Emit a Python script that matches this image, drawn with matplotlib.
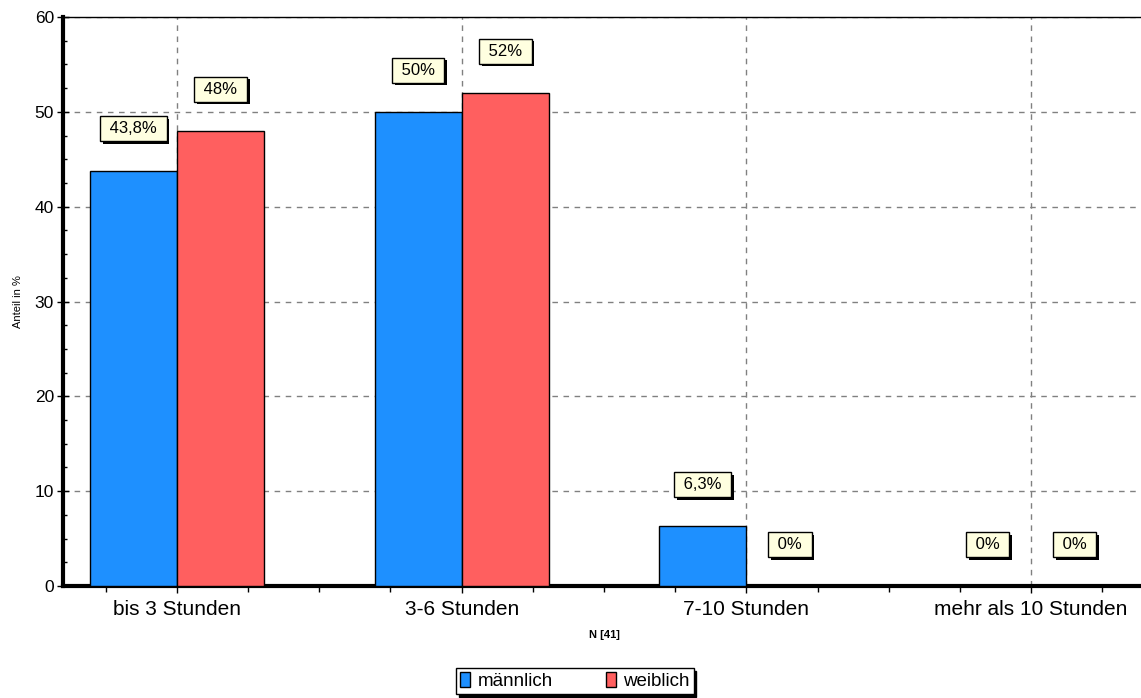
import matplotlib
matplotlib.use("Agg")
import matplotlib.pyplot as plt
import matplotlib.patheffects as pe
import numpy as np
from matplotlib.ticker import MultipleLocator

plt.rcParams["font.family"] = ["Liberation Sans", "DejaVu Sans"]

# data
categories = ["bis 3 Stunden", "3-6 Stunden", "7-10 Stunden", "mehr als 10 Stunden"]
maennlich = [43.8, 50, 6.3, 0]
weiblich = [48, 52, 0, 0]
series_names = ["männlich", "weiblich"]
colors = ["#1e90ff", "#ff5f5f"]


def fmt(v):
    if float(v).is_integer():
        return f"{int(v)}%"
    return f"{v:.1f}%".replace(".", ",")


fig = plt.figure(figsize=(11.41, 6.98), dpi=100)
ax = fig.add_axes([63 / 1141, 112 / 698, 1082 / 1141, 569 / 698])

x = np.arange(len(categories))
w = 0.306

box_shadow = [pe.SimplePatchShadow(offset=(2, -2), shadow_rgbFace="black", alpha=1),
              pe.Normal()]

for i, (vals, col) in enumerate(zip([maennlich, weiblich], colors)):
    offs = -w / 2 if i == 0 else w / 2
    ax.bar(x + offs, vals, w, color=col, edgecolor="black", linewidth=1,
           label=series_names[i], zorder=3)
    for xi, v in zip(x + offs, vals):
        t = ax.annotate(f" {fmt(v)} ", (xi, v), xytext=(0, 30), textcoords="offset points",
                        ha="center", va="center", fontsize=12, color="black",
                        bbox=dict(boxstyle="square,pad=0.3", fc="#ffffe0", ec="black", lw=1),
                        zorder=5)
        t.get_bbox_patch().set_path_effects(box_shadow)

ax.set_xlim(-0.4, len(categories) - 0.6)
ax.set_ylim(0, 60)
ax.set_xticks(x)
ax.set_xticklabels(categories, fontsize=15)
ax.xaxis.set_minor_locator(MultipleLocator(0.25))
ax.yaxis.set_major_locator(MultipleLocator(10))
ax.yaxis.set_minor_locator(MultipleLocator(2.5))
ax.tick_params(axis="y", labelsize=12.5, length=9, width=1, direction="inout", pad=2)
ax.tick_params(axis="y", which="minor", length=3, width=1, direction="in")
ax.tick_params(axis="x", length=5, width=1, direction="out", pad=5)
ax.tick_params(axis="x", which="minor", length=4, width=1, direction="out")

ax.grid(True, which="major", color="#808080", linestyle=(0, (4, 4)), linewidth=1, zorder=0)
ax.set_axisbelow(True)

ax.spines["left"].set_linewidth(3)
ax.spines["bottom"].set_linewidth(3)
ax.spines["top"].set_linewidth(1)
ax.spines["right"].set_linewidth(1)

ax.set_ylabel("Anteil in %", fontsize=8, labelpad=8)
ax.set_xlabel("N [41]", fontsize=8, fontweight="bold", labelpad=8)

leg = fig.legend(loc="center", bbox_to_anchor=(575 / 1141, 1 - 681 / 698), ncol=2,
                 fontsize=13.5, frameon=True, fancybox=False,
                 shadow={"color": "black", "alpha": 1},
                 handlelength=0.55, handleheight=0.9, columnspacing=2.8,
                 borderpad=0.2, handletextpad=0.4, borderaxespad=0)
leg.get_frame().set_edgecolor("black")
leg.get_frame().set_linewidth(1)

fig.savefig("out.png", dpi=100)
